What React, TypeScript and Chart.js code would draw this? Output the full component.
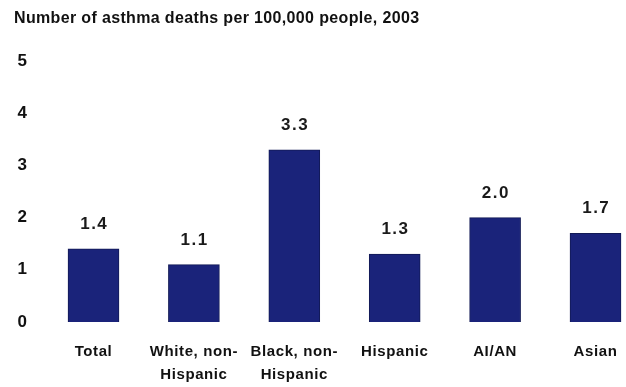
import React, { useEffect, useRef } from "react";
import { Chart, registerables } from "chart.js";

Chart.register(...registerables);

const categories: (string | string[])[] = [
  "Total",
  ["White, non-", "Hispanic"],
  ["Black, non-", "Hispanic"],
  "Hispanic",
  "AI/AN",
  "Asian",
];
const deathRates = [1.4, 1.1, 3.3, 1.3, 2.0, 1.7];
const yTicks = [0, 1, 2, 3, 4, 5];
const titleText = "Number of asthma deaths per 100,000 people, 2003";

const FONT = "'Liberation Sans', Arial, sans-serif";

const textPlugin = {
  id: "textPlugin",
  beforeDraw(chart: any) {
    (chart.ctx as any).letterSpacing = "0.6px";
  },
  afterDatasetsDraw(chart: any) {
    const ctx = chart.ctx as any;
    const meta = chart.getDatasetMeta(0);
    ctx.save();
    ctx.letterSpacing = "1.5px";
    ctx.font = `bold 17px ${FONT}`;
    ctx.fillStyle = "#1a1a1a";
    ctx.textAlign = "center";
    ctx.textBaseline = "alphabetic";
    meta.data.forEach((bar: any, i: number) => {
      ctx.fillText(deathRates[i].toFixed(1), bar.x + 0.75, bar.y - 20);
    });
    ctx.restore();
  },
  afterDraw(chart: any) {
    const ctx = chart.ctx as any;
    ctx.save();
    ctx.letterSpacing = "0.35px";
    ctx.font = `bold 16px ${FONT}`;
    ctx.fillStyle = "#111111";
    ctx.textAlign = "left";
    ctx.textBaseline = "alphabetic";
    ctx.fillText(titleText, 14, 22.5);
    ctx.restore();
    ctx.letterSpacing = "0px";
  },
};

export default function App() {
  const ref = useRef<HTMLCanvasElement>(null);
  useEffect(() => {
    document.body.style.margin = "0";
    const chart = new Chart(ref.current!, {
      type: "bar",
      data: {
        labels: categories,
        datasets: [
          {
            data: deathRates,
            backgroundColor: "#1a237a",
            borderColor: "#121a55",
            borderWidth: 1,
            barThickness: 51,
            clip: false as any,
          },
        ],
      },
      options: {
        animation: false,
        responsive: true,
        maintainAspectRatio: false,
        layout: { padding: { left: 0, right: 30.5, top: 61, bottom: 0 } },
        plugins: {
          legend: { display: false },
          tooltip: { enabled: false },
          title: { display: false },
        },
        scales: {
          x: {
            type: "category",
            offset: false,
            afterFit(scale: any) {
              scale.height = 65;
              scale.paddingLeft = 0;
              scale.paddingRight = 0;
            },
            grid: { display: false, drawTicks: false },
            border: { display: false },
            ticks: {
              autoSkip: false,
              maxRotation: 0,
              padding: 18,
              color: "#111111",
              font: { family: FONT, size: 15, weight: "bold", lineHeight: 1.53 },
            },
          },
          y: {
            min: 0,
            max: 5,
            afterFit(scale: any) {
              scale.width = 93.5;
              scale.paddingTop = 0;
              scale.paddingBottom = 0;
            },
            afterBuildTicks(scale: any) {
              scale.ticks = yTicks.map((v) => ({ value: v }));
            },
            grid: { display: false, drawTicks: false },
            border: { display: false },
            ticks: {
              padding: 66,
              color: "#111111",
              font: { family: FONT, size: 17, weight: "bold" },
            },
          },
        },
      },
      plugins: [textPlugin],
    });
    return () => chart.destroy();
  }, []);
  return (
    <div style={{ position: "relative", width: 626, height: 387 }}>
      <canvas ref={ref} />
    </div>
  );
}
